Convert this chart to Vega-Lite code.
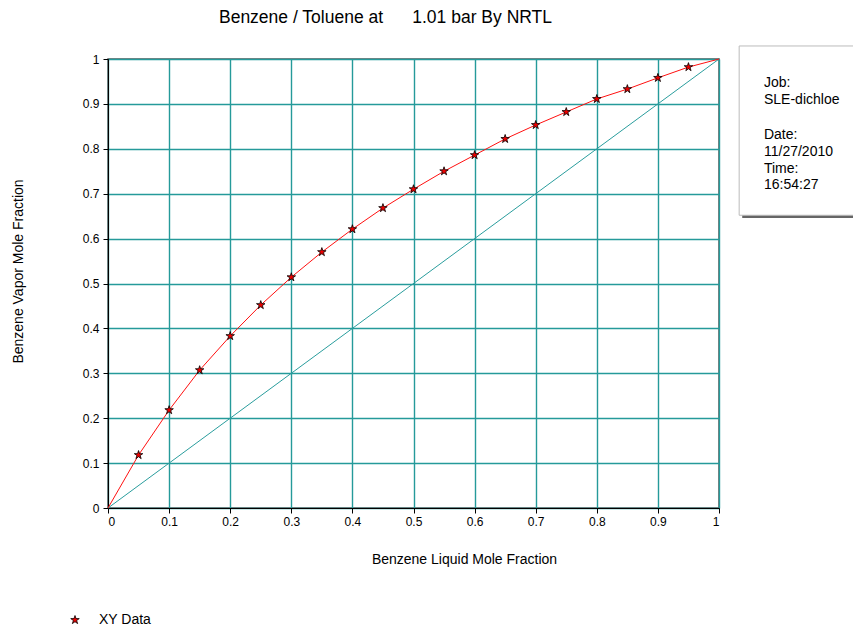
{
  "$schema": "https://vega.github.io/schema/vega-lite/v6.json",
  "width": 611,
  "height": 449,
  "autosize": {"type": "none"},
  "padding": {"left": 108, "top": 59, "right": 134, "bottom": 120},
  "background": "white",
  "config": {
    "font": "Liberation Sans",
    "view": {"stroke": "#555555", "strokeWidth": 1.5},
    "axis": {
      "domainColor": "black",
      "tickColor": "black",
      "tickSize": 5,
      "labelColor": "black",
      "labelFont": "Liberation Sans",
      "labelFontSize": 12,
      "titleFont": "Liberation Sans",
      "titleFontSize": 14,
      "titleFontWeight": "normal",
      "titleColor": "black",
      "gridColor": "#259a9a",
      "gridWidth": 1.4,
      "gridOpacity": 1
    }
  },
  "title": {
    "text": "Benzene / Toluene at \u00a0\u00a0\u00a0\u00a0 1.01 bar By NRTL",
    "fontSize": 17.5,
    "fontWeight": "normal",
    "font": "Liberation Sans",
    "color": "black",
    "dx": -28,
    "offset": 19
  },
  "datasets": {
    "curve": [
      {"x": 0, "y": 0},
      {"x": 0.05, "y": 0.118},
      {"x": 0.1, "y": 0.218},
      {"x": 0.15, "y": 0.307},
      {"x": 0.2, "y": 0.383},
      {"x": 0.25, "y": 0.452},
      {"x": 0.3, "y": 0.514},
      {"x": 0.35, "y": 0.57},
      {"x": 0.4, "y": 0.621},
      {"x": 0.45, "y": 0.668},
      {"x": 0.5, "y": 0.71},
      {"x": 0.55, "y": 0.75},
      {"x": 0.6, "y": 0.786},
      {"x": 0.65, "y": 0.822},
      {"x": 0.7, "y": 0.853},
      {"x": 0.75, "y": 0.882},
      {"x": 0.8, "y": 0.911},
      {"x": 0.85, "y": 0.933},
      {"x": 0.9, "y": 0.958},
      {"x": 0.95, "y": 0.982},
      {"x": 1, "y": 1}
    ],
    "diag": [
      {"x": 0, "y": 0},
      {"x": 1, "y": 1}
    ],
    "info": [
      {"label": "Job box"}
    ]
  },
  "layer": [
    {
      "data": {"name": "diag"},
      "mark": {"type": "line", "color": "#2a9d9d", "strokeWidth": 1},
      "encoding": {
        "x": {
          "field": "x",
          "type": "quantitative",
          "scale": {"domain": [0, 1], "nice": false, "zero": false},
          "axis": {
            "values": [0, 0.1, 0.2, 0.3, 0.4, 0.5, 0.6, 0.7, 0.8, 0.9, 1],
            "format": "~g",
            "labelPadding": 3,
            "title": "Benzene Liquid Mole Fraction",
            "titleX": 356,
            "titleY": 44
          }
        },
        "y": {
          "field": "y",
          "type": "quantitative",
          "scale": {"domain": [0, 1], "nice": false, "zero": false},
          "axis": {
            "values": [0, 0.1, 0.2, 0.3, 0.4, 0.5, 0.6, 0.7, 0.8, 0.9, 1],
            "format": "~g",
            "labelPadding": 4,
            "title": "Benzene Vapor Mole Fraction",
            "titleX": -90,
            "titleY": 212,
            "titleBaseline": "middle"
          }
        }
      }
    },
    {
      "data": {"name": "curve"},
      "mark": {"type": "line", "color": "#ff1010", "strokeWidth": 1},
      "encoding": {
        "x": {"field": "x", "type": "quantitative"},
        "y": {"field": "y", "type": "quantitative"}
      }
    },
    {
      "data": {"name": "curve"},
      "transform": [{"filter": "datum.x > 0 && datum.x < 1"}],
      "mark": {
        "type": "point",
        "filled": true,
        "opacity": 1,
        "shape": "M0,-1L0.2245,-0.309L0.951,-0.309L0.363,0.118L0.588,0.809L0,0.382L-0.588,0.809L-0.363,0.118L-0.951,-0.309L-0.2245,-0.309Z",
        "size": 80,
        "stroke": "black",
        "strokeWidth": 0.8
      },
      "encoding": {
        "x": {"field": "x", "type": "quantitative"},
        "y": {"field": "y", "type": "quantitative"},
        "color": {
          "datum": "XY Data",
          "scale": {"range": ["#ee0000"]},
          "legend": {
            "title": null,
            "orient": "none",
            "legendX": -40,
            "legendY": 554,
            "padding": 0,
            "symbolType": "M0,-1L0.2245,-0.309L0.951,-0.309L0.363,0.118L0.588,0.809L0,0.382L-0.588,0.809L-0.363,0.118L-0.951,-0.309L-0.2245,-0.309Z",
            "symbolSize": 80,
            "symbolStrokeColor": "black",
            "symbolStrokeWidth": 0.8,
            "labelFont": "Liberation Sans",
            "labelFontSize": 14,
            "labelColor": "black",
            "labelOffset": 17
          }
        }
      }
    },
    {
      "data": {"name": "info"},
      "mark": {"type": "rect", "fill": "#666666"},
      "encoding": {
        "x": {"datum": 1.038},
        "x2": {"datum": 1.3},
        "y": {"datum": 1.024},
        "y2": {"datum": 0.646}
      }
    },
    {
      "data": {"name": "info"},
      "mark": {"type": "rect", "fill": "white", "stroke": "#bbbbbb", "strokeWidth": 1},
      "encoding": {
        "x": {"datum": 1.033},
        "x2": {"datum": 1.3},
        "y": {"datum": 1.029},
        "y2": {"datum": 0.652}
      }
    },
    {
      "data": {"name": "info"},
      "mark": {
        "type": "text",
        "text": ["Job:", "SLE-dichloethane"],
        "align": "left",
        "baseline": "top",
        "font": "Liberation Sans",
        "fontSize": 14,
        "lineHeight": 17,
        "color": "black",
        "limit": 79,
        "ellipsis": "\u200b"
      },
      "encoding": {
        "x": {"datum": 1.0736},
        "y": {"datum": 0.962}
      }
    },
    {
      "data": {"name": "info"},
      "mark": {
        "type": "text",
        "text": ["Date:", "11/27/2010", "Time:", "16:54:27"],
        "align": "left",
        "baseline": "top",
        "font": "Liberation Sans",
        "fontSize": 14,
        "lineHeight": 16.7,
        "color": "black"
      },
      "encoding": {
        "x": {"datum": 1.0736},
        "y": {"datum": 0.846}
      }
    }
  ]
}
